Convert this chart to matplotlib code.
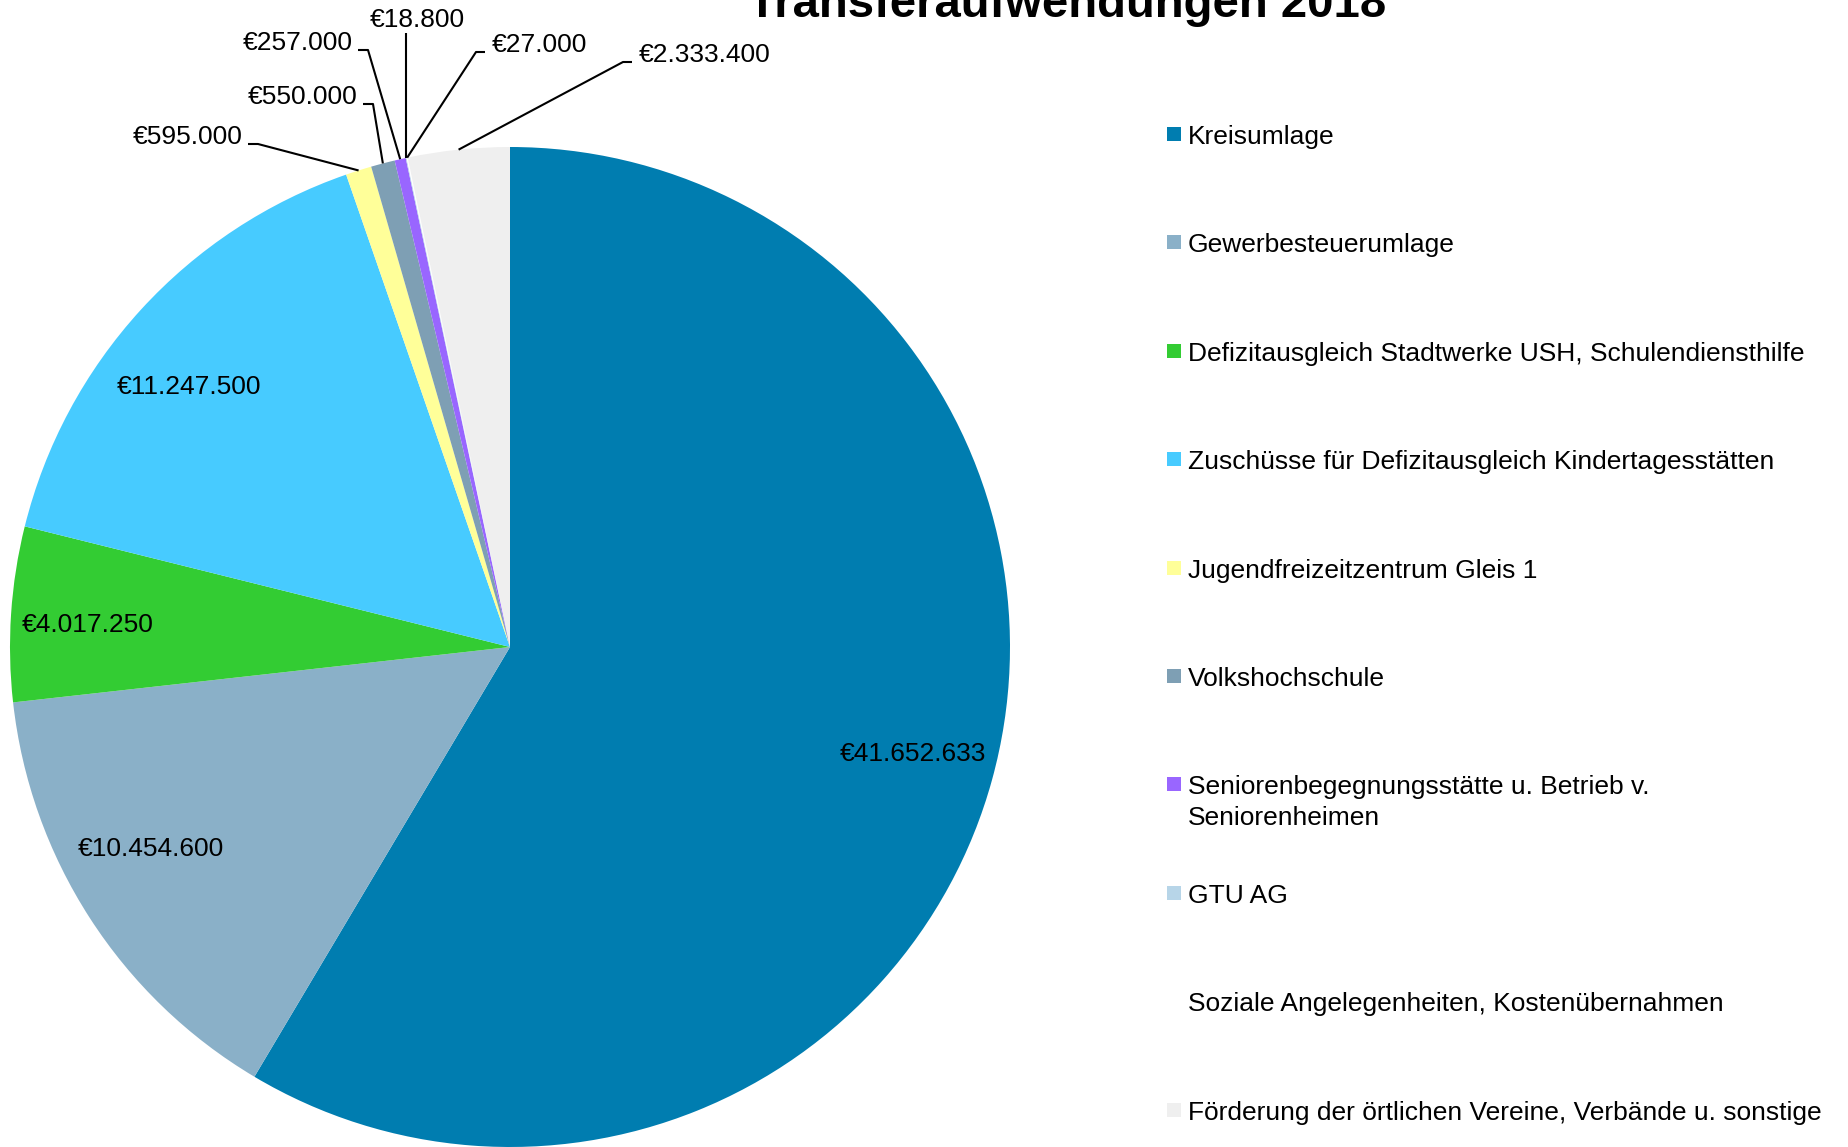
import numpy as np
import matplotlib.pyplot as plt
from matplotlib.patches import Rectangle

plt.rcParams["font.family"] = ["Liberation Sans", "DejaVu Sans"]

# ---- data ----
categories = [
    "Kreisumlage",
    "Gewerbesteuerumlage",
    "Defizitausgleich Stadtwerke USH, Schulendiensthilfe",
    "Zuschüsse für Defizitausgleich Kindertagesstätten",
    "Jugendfreizeitzentrum Gleis 1",
    "Volkshochschule",
    "Seniorenbegegnungsstätte u. Betrieb v.\nSeniorenheimen",
    "GTU AG",
    "Soziale Angelegenheiten, Kostenübernahmen",
    "Förderung der örtlichen Vereine, Verbände u. sonstige",
]
values = [41652633, 10454600, 4017250, 11247500, 595000,
          550000, 257000, 18800, 27000, 2333400]
colors = ["#007DB0", "#8AB0C8", "#33CC33", "#47CBFF", "#FFFF99",
          "#7E9FB4", "#9966FF", "#B7D5E8", "#FFFFFF", "#EFEFEF"]
title = "Transferaufwendungen 2018"

# label positions, pixels from top-left: index -> (x, y, alignment)
inside = {
    0: (913, 754),
    1: (151, 849),
    2: (88, 625),
    3: (189, 387),
}
outside = {
    4: (243, 137, "right"),
    5: (358, 97, "right"),
    6: (353, 43, "right"),
    7: (417, 20, "center"),
    8: (492, 45, "left"),
    9: (639, 55, "left"),
}


def euro(v):
    return "€" + f"{v:,}".replace(",", ".")


W, H = 1848, 1147
fig = plt.figure(figsize=(W / 100, H / 100), dpi=100)
ax = fig.add_axes([0, 0, 1, 1])

cx, cy, r = 510, H - 647, 500
wedges, _ = ax.pie(values, colors=colors, startangle=90, counterclock=False,
                   center=(cx, cy), radius=r, frame=True,
                   wedgeprops=dict(linewidth=0))
ax.set_xlim(0, W)
ax.set_ylim(0, H)
ax.set_aspect("equal")
ax.axis("off")

fs = 19
for i, (w, v) in enumerate(zip(wedges, values)):
    if i in inside:
        tx, ty = inside[i]
        ax.text(tx, H - ty, euro(v), ha="center", va="center", fontsize=fs)
        continue
    mid = np.deg2rad((w.theta1 + w.theta2) / 2)
    tx, ty, ha = outside[i]
    ex, ey = cx + r * np.cos(mid), cy + r * np.sin(mid)
    ax.text(tx, H - ty, euro(v), ha=ha, va="center", fontsize=fs)
    if ha == "right":
        xs = [tx + 5, tx + 15, ex]
        ys = [H - ty - 7, H - ty - 7, ey]
    elif ha == "left":
        xs = [tx - 7, tx - 16, ex]
        ys = [H - ty - 7, H - ty - 7, ey]
    else:
        xs = [ex, ex]
        ys = [H - ty - 13, ey]
    ax.plot(xs, ys, color="black", linewidth=1.5, solid_capstyle="butt")

# title (cut off at top like the original)
fig.text(1067 / W, 1 - 17 / H, title, ha="center", va="baseline",
         fontsize=34, fontweight="bold")

# legend
for i, (lab, c) in enumerate(zip(categories, colors)):
    yc = 134 + 108.4 * i
    fig.patches.append(Rectangle((1167 / W, 1 - (yc + 7) / H), 14 / W, 14 / H,
                                 transform=fig.transFigure, facecolor=c,
                                 edgecolor="none"))
    fig.text(1188 / W, 1 - (yc - 9) / H, lab, ha="left", va="top",
             fontsize=fs, linespacing=1.35)

fig.savefig("out.png", dpi=100)
